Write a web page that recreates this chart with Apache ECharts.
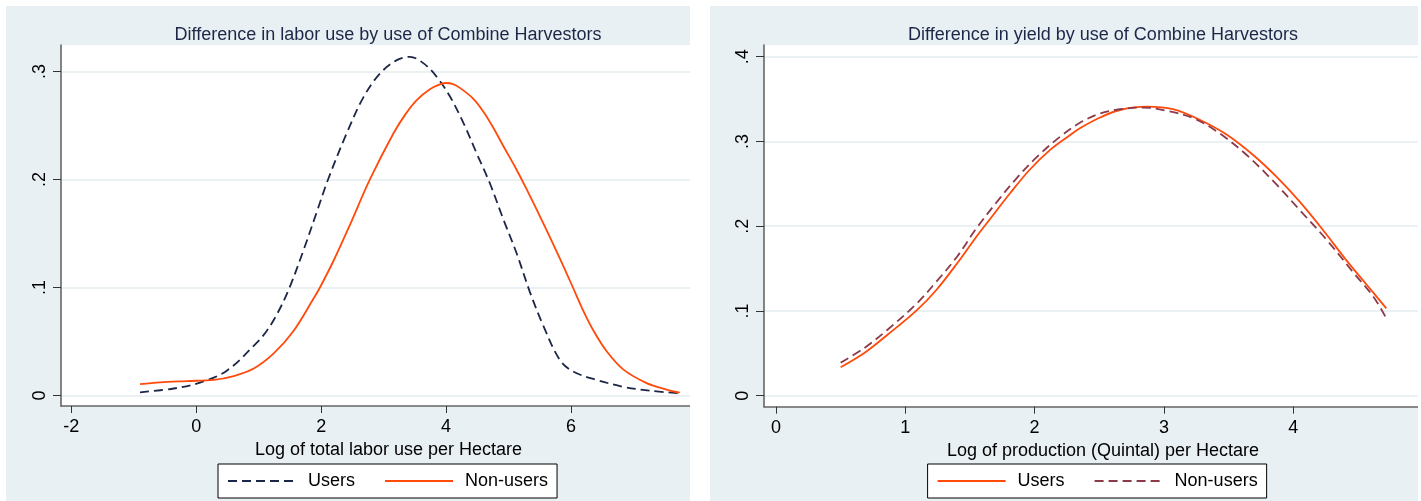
<!DOCTYPE html>
<html>
<head>
<meta charset="utf-8">
<title>Combine Harvestors: kernel densities</title>
<script src="https://cdn.jsdelivr.net/npm/echarts@6/dist/echarts.min.js"></script>
<style>
  html, body { margin: 0; padding: 0; background: #ffffff; width: 1421px; height: 501px; overflow: hidden; }
  .panel { position: absolute; top: 6px; height: 495px; background: #e9f0f3; }
  #labor { left: 6px; width: 684px; }
  #yield { left: 710px; width: 708px; }
</style>
</head>
<body>
<div id="labor" class="panel"></div>
<div id="yield" class="panel"></div>
<script>
// ---- Labor use panel: density of log labor use per hectare ----
const laborUsersX = [-0.9, -0.36, 0.06, 0.49, 0.97, 1.13, 1.29, 1.48, 1.72, 1.93, 2.11, 2.41, 2.68, 2.94, 3.21, 3.42, 3.64, 3.85, 4.06, 4.28, 4.49, 4.7, 4.92, 5.13, 5.34, 5.56, 5.82, 6.04, 6.41, 6.84, 7.26, 7.74];
const laborUsersY = [0.003, 0.0065, 0.012, 0.023, 0.049, 0.06, 0.075, 0.098, 0.135, 0.17, 0.2, 0.243, 0.2765, 0.298, 0.3105, 0.3135, 0.3075, 0.295, 0.277, 0.252, 0.224, 0.1965, 0.1625, 0.1315, 0.096, 0.064, 0.033, 0.022, 0.0145, 0.008, 0.0045, 0.002];
const laborNonUsersX = [-0.9, -0.58, -0.15, 0.28, 0.6, 0.92, 1.24, 1.56, 1.88, 1.98, 2.2, 2.46, 2.78, 3.16, 3.35, 3.53, 3.74, 3.9, 4.0, 4.1, 4.22, 4.44, 4.6, 4.76, 4.92, 5.1, 5.28, 5.56, 5.82, 6.03, 6.2, 6.36, 6.57, 6.84, 7.21, 7.5, 7.74];
const laborNonUsersY = [0.0105, 0.0122, 0.0134, 0.0145, 0.018, 0.025, 0.039, 0.06, 0.09, 0.1, 0.125, 0.158, 0.2, 0.243, 0.2605, 0.2735, 0.2835, 0.288, 0.2893, 0.2885, 0.2848, 0.2745, 0.2625, 0.2475, 0.2305, 0.212, 0.192, 0.159, 0.127, 0.1, 0.078, 0.06, 0.041, 0.024, 0.0115, 0.006, 0.0026];
const laborXTicks = [-2, 0, 2, 4, 6];
const laborYTicks = [0, 0.1, 0.2, 0.3];

// ---- Yield panel: density of log production (quintal) per hectare ----
const yieldUsersX = [0.5, 0.68, 0.86, 1.09, 1.24, 1.4, 1.55, 1.66, 1.81, 1.96, 2.12, 2.27, 2.35, 2.51, 2.66, 2.87, 3.07, 3.28, 3.49, 3.69, 3.87, 4.05, 4.23, 4.41, 4.57, 4.72];
const yieldUsersY = [0.0335, 0.05, 0.0716, 0.101, 0.1247, 0.156, 0.1876, 0.2093, 0.2388, 0.2663, 0.29, 0.307, 0.3155, 0.3285, 0.3371, 0.341, 0.338, 0.3253, 0.3076, 0.284, 0.2584, 0.2289, 0.1955, 0.16, 0.1306, 0.103];
const yieldNonUsersX = [0.5, 0.68, 0.86, 1.09, 1.24, 1.4, 1.55, 1.71, 1.86, 2.02, 2.2, 2.35, 2.51, 2.66, 2.84, 3.02, 3.23, 3.43, 3.64, 3.85, 4.05, 4.26, 4.47, 4.62, 4.72];
const yieldNonUsersY = [0.039, 0.0559, 0.0775, 0.109, 0.1345, 0.164, 0.1975, 0.229, 0.2565, 0.282, 0.306, 0.322, 0.3332, 0.338, 0.34, 0.3363, 0.3273, 0.3096, 0.284, 0.2525, 0.2191, 0.1837, 0.1444, 0.1168, 0.0913];
const yieldXTicks = [0, 1, 2, 3, 4];
const yieldYTicks = [0, 0.1, 0.2, 0.3, 0.4];

const FONT = '"Liberation Sans", Arial, Helvetica, sans-serif';
const NAVY = '#1c2747';
const ORANGE = '#ff4a0a';
const MAROON = '#8b3a4a';
const GRID_LINE = '#e4ecef';
const AXIS = '#666666';

const zip = (xs, ys) => xs.map((x, i) => [x, ys[i]]);
const dropLeadingZero = v => (v === 0 ? '0' : String(v).replace(/^0(?=\.)/, ''));

function densityOption(cfg) {
  return {
    animation: false,
    textStyle: { fontFamily: FONT },
    title: {
      text: cfg.title,
      left: cfg.centerX,
      top: 20,
      padding: 0,
      textAlign: 'center',
      textStyle: { fontFamily: FONT, fontSize: 18, fontWeight: 'normal', color: NAVY }
    },
    grid: {
      left: cfg.grid.left, top: 39, right: 0, bottom: cfg.grid.bottom,
      show: true, backgroundColor: '#ffffff', borderWidth: 0
    },
    xAxis: {
      type: 'value',
      min: cfg.xMin, max: cfg.xMax,
      name: cfg.xName,
      nameLocation: 'middle',
      nameGap: 27,
      nameTextStyle: { fontFamily: FONT, fontSize: 18, color: '#000', padding: [0, 0, 0, cfg.nameShift] },
      axisLine: { show: true, onZero: false, lineStyle: { color: AXIS, width: 1.6 } },
      axisTick: { show: true, length: 7, customValues: cfg.xTicks, lineStyle: { color: '#333', width: 1 } },
      axisLabel: { customValues: cfg.xTicks, fontSize: 18, color: '#000', margin: 12 },
      splitLine: { show: false }
    },
    yAxis: {
      type: 'value',
      min: cfg.yMin, max: cfg.yMax,
      axisLine: { show: true, onZero: false, lineStyle: { color: AXIS, width: 1.6 } },
      axisTick: { show: true, length: 8, customValues: cfg.yTicks, lineStyle: { color: '#333', width: 1 } },
      axisLabel: { customValues: cfg.yTicks, fontSize: 18, color: '#000', margin: 12, rotate: 90, formatter: dropLeadingZero },
      splitLine: { show: true, lineStyle: { color: GRID_LINE, width: 1.5 } }
    },
    legend: {
      left: cfg.legendLeft, top: 458,
      orient: 'horizontal',
      padding: [8, 9, 8, 9],
      itemWidth: 68, itemHeight: 14, itemGap: 29,
      backgroundColor: '#ffffff',
      borderColor: '#000000', borderWidth: 1, borderRadius: 0,
      selectedMode: false,
      itemStyle: { opacity: 0 },
      textStyle: { fontFamily: FONT, fontSize: 18, color: '#000', padding: [0, 0, 0, 7] },
      data: cfg.series.map(s => s.name)
    },
    series: cfg.series.map(s => ({
      name: s.name,
      type: 'line',
      data: zip(s.x, s.y),
      symbol: 'none',
      smooth: 0.35,
      lineStyle: { color: s.color, width: 1.8, type: s.dashed ? [9, 5] : 'solid' },
      itemStyle: { color: s.color }
    }))
  };
}

const laborChart = echarts.init(document.getElementById('labor'), null, { renderer: 'canvas' });
laborChart.setOption(densityOption({
  title: 'Difference in labor use by use of Combine Harvestors',
  centerX: 382,
  grid: { left: 55, bottom: 95 },
  xMin: -2.165, xMax: 7.904,
  yMin: -0.0097, yMax: 0.3245,
  xTicks: laborXTicks, yTicks: laborYTicks,
  xName: 'Log of total labor use per Hectare',
  nameShift: 26,
  legendLeft: 212,
  series: [
    { name: 'Users', x: laborUsersX, y: laborUsersY, color: NAVY, dashed: true },
    { name: 'Non-users', x: laborNonUsersX, y: laborNonUsersY, color: ORANGE, dashed: false }
  ]
}));

const yieldChart = echarts.init(document.getElementById('yield'), null, { renderer: 'canvas' });
yieldChart.setOption(densityOption({
  title: 'Difference in yield by use of Combine Harvestors',
  centerX: 393,
  grid: { left: 54, bottom: 94.3 },
  xMin: -0.0928, xMax: 4.965,
  yMin: -0.013, yMax: 0.4138,
  xTicks: yieldXTicks, yTicks: yieldYTicks,
  xName: 'Log of production (Quintal) per Hectare',
  nameShift: 24,
  legendLeft: 217.6,
  series: [
    { name: 'Users', x: yieldUsersX, y: yieldUsersY, color: ORANGE, dashed: false },
    { name: 'Non-users', x: yieldNonUsersX, y: yieldNonUsersY, color: MAROON, dashed: true }
  ]
}));
</script>
</body>
</html>
